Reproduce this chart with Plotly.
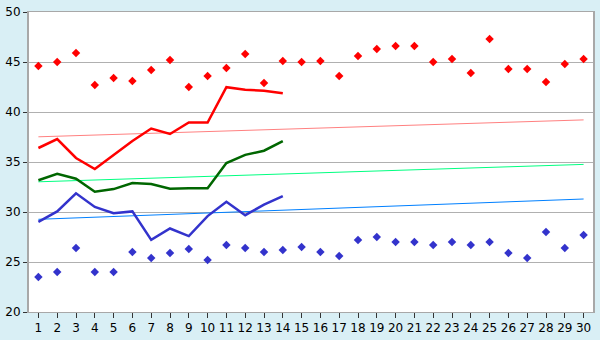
import plotly.graph_objects as go

days = list(range(1, 31))
line_days = list(range(1, 15))

red_points = [44.6, 45.0, 45.9, 42.7, 43.4, 43.1, 44.2, 45.2, 42.5, 43.6,
              44.4, 45.8, 42.9, 45.1, 45.0, 45.1, 43.6, 45.6, 46.3, 46.6,
              46.6, 45.0, 45.3, 43.9, 47.3, 44.3, 44.3, 43.0, 44.8, 45.3]
blue_points = [23.5, 24.0, 26.4, 24.0, 24.0, 26.0, 25.4, 25.9, 26.3, 25.2,
               26.7, 26.4, 26.0, 26.2, 26.5, 26.0, 25.6, 27.2, 27.5, 27.0,
               27.0, 26.7, 27.0, 26.7, 27.0, 25.9, 25.4, 28.0, 26.4, 27.7]

red_line = [36.4, 37.3, 35.4, 34.3, 35.7, 37.1, 38.35, 37.8, 38.95, 38.95,
            42.48, 42.22, 42.13, 41.87]
green_line = [33.17, 33.81, 33.33, 32.03, 32.29, 32.89, 32.79, 32.32, 32.38, 32.38,
              34.9, 35.71, 36.13, 37.08]
blue_line = [29.02, 30.06, 31.87, 30.5, 29.87, 30.06, 27.21, 28.35, 27.59, 29.59,
             31.02, 29.68, 30.73, 31.59]

trend_days = [1, 30]
red_trend = [37.52, 39.21]
green_trend = [33.02, 34.76]
blue_trend = [29.27, 31.3]

fig = go.Figure()

fig.add_trace(go.Scatter(x=trend_days, y=red_trend, mode="lines",
                         line=dict(color="#FF8080", width=1)))
fig.add_trace(go.Scatter(x=trend_days, y=green_trend, mode="lines",
                         line=dict(color="#00FF80", width=1)))
fig.add_trace(go.Scatter(x=trend_days, y=blue_trend, mode="lines",
                         line=dict(color="#0080FF", width=1)))

fig.add_trace(go.Scatter(x=line_days, y=red_line, mode="lines",
                         line=dict(color="#FF0000", width=2.5)))
fig.add_trace(go.Scatter(x=line_days, y=green_line, mode="lines",
                         line=dict(color="#006600", width=2.5)))
fig.add_trace(go.Scatter(x=line_days, y=blue_line, mode="lines",
                         line=dict(color="#3333CC", width=2.5)))

fig.add_trace(go.Scatter(x=days, y=red_points, mode="markers",
                         marker=dict(symbol="diamond", size=6.5, color="#FF0000")))
fig.add_trace(go.Scatter(x=days, y=blue_points, mode="markers",
                         marker=dict(symbol="diamond", size=6.5, color="#3333CC")))

fig.update_layout(
    width=600, height=340,
    margin=dict(l=20, r=5, t=5, b=20),
    paper_bgcolor="#D9EFF5",
    plot_bgcolor="#FFFFFF",
    showlegend=False,
    font=dict(family="DejaVu Sans", size=12, color="#000000"),
)
fig.update_xaxes(range=[0.5, 30.5], tickmode="array", tickvals=days,
                 ticktext=[str(d) for d in days],
                 showgrid=False, zeroline=False,
                 showline=True, mirror=True, linecolor="#A8A8A8", linewidth=1,
                 ticks="outside", ticklen=5, tickcolor="#333333",
                 ticklabeloverflow="allow")
fig.update_yaxes(range=[20, 50], tickmode="array",
                 tickvals=[20, 25, 30, 35, 40, 45, 50],
                 ticktext=["20", "25", "30", "35", "40", "45", "50"],
                 showgrid=True, gridcolor="#B0B0B0", gridwidth=1,
                 zeroline=False,
                 showline=True, mirror=True, linecolor="#A8A8A8", linewidth=2,
                 ticks="outside", ticklen=4, tickcolor="#333333",
                 ticklabeloverflow="allow")

fig.write_html("out.html")
